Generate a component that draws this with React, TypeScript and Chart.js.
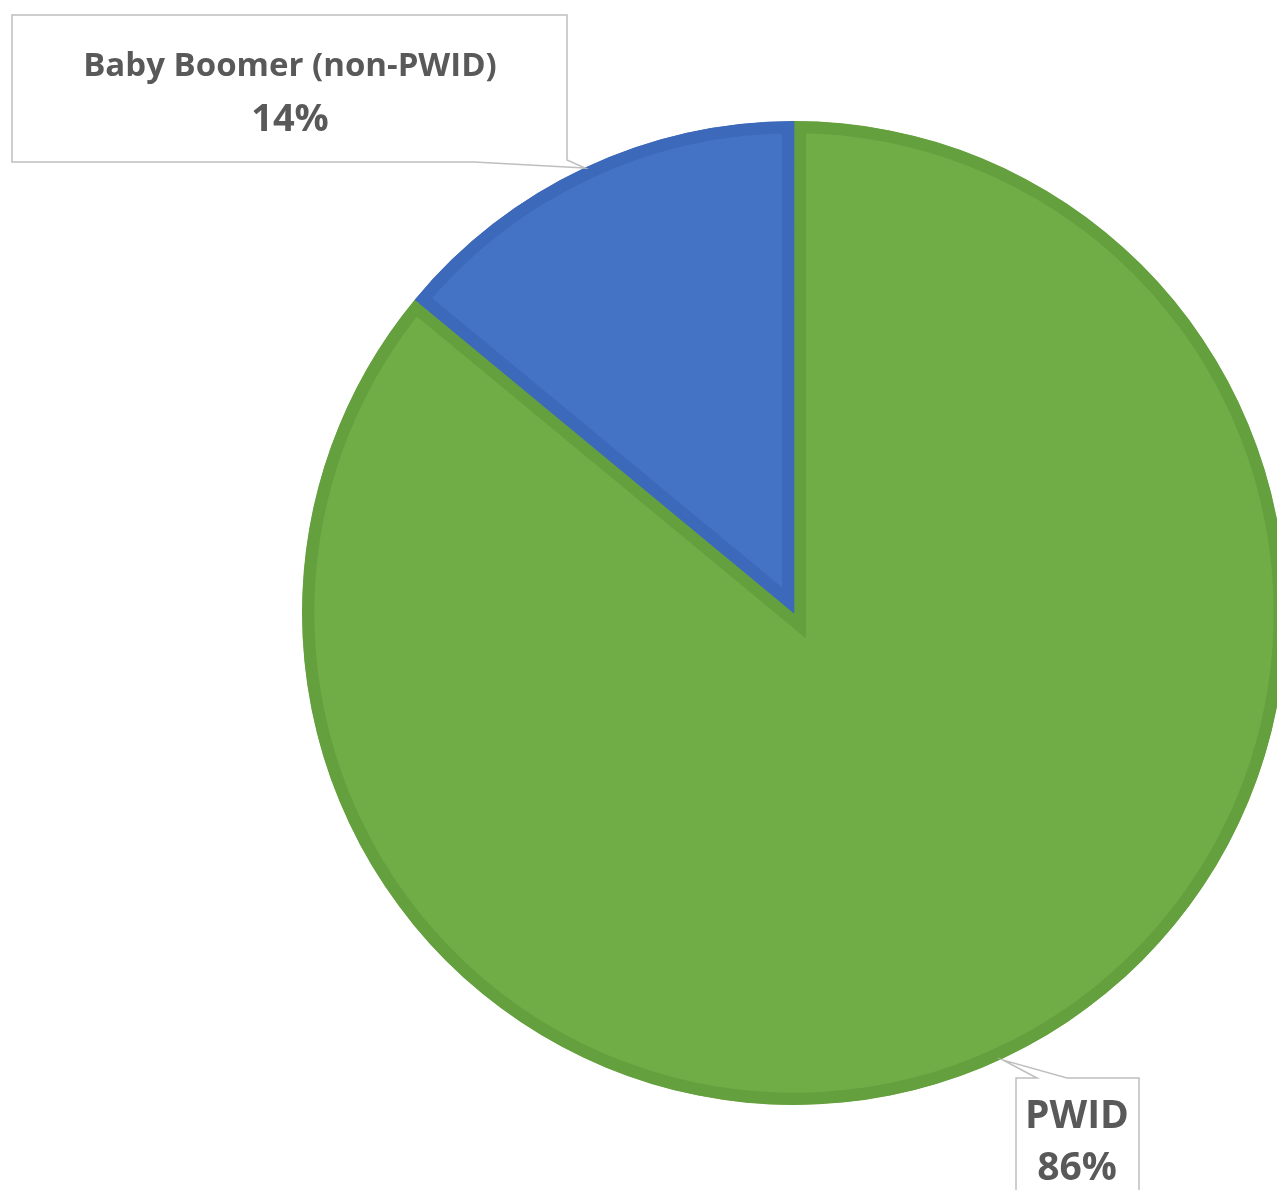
import React, { useEffect, useRef } from "react";
import { Chart, registerables } from "chart.js";

Chart.register(...registerables);

const categories: string[] = ["PWID", "Baby Boomer (non-PWID)"];
const values: number[] = [86, 14];
const fillColors: string[] = ["#70AD47", "#4472C4"];
const borderColors: string[] = ["#65A03E", "#3D69BA"];

const FONT = '"Open Sans", "DejaVu Sans", sans-serif';
const TEXT_COLOR = "#595959";
const BOX_COLOR = "#BFBFBF";

const calloutPlugin = {
  id: "callouts",
  afterDraw(chart: any) {
    const ctx = chart.ctx as CanvasRenderingContext2D;
    const total = values.reduce((a, b) => a + b, 0);
    const pct = values.map((v) => Math.round((v / total) * 100) + "%");

    ctx.save();
    ctx.lineWidth = 1.5;
    ctx.strokeStyle = BOX_COLOR;
    ctx.fillStyle = "#FFFFFF";

    // Baby Boomer callout (pointer at bottom right)
    ctx.beginPath();
    ctx.moveTo(12, 15);
    ctx.lineTo(567, 15);
    ctx.lineTo(567, 160);
    ctx.lineTo(585, 168);
    ctx.lineTo(474, 162);
    ctx.lineTo(12, 162);
    ctx.closePath();
    ctx.fill();
    ctx.stroke();

    // PWID callout (pointer at top left)
    ctx.beginPath();
    ctx.moveTo(1016, 1078);
    ctx.lineTo(1037, 1078);
    ctx.lineTo(1003, 1060);
    ctx.lineTo(1067, 1078);
    ctx.lineTo(1139, 1078);
    ctx.lineTo(1139, 1200);
    ctx.lineTo(1016, 1200);
    ctx.closePath();
    ctx.fill();
    ctx.stroke();

    ctx.fillStyle = TEXT_COLOR;
    ctx.textAlign = "center";
    ctx.textBaseline = "alphabetic";

    ctx.font = `bold 33px ${FONT}`;
    ctx.fillText(categories[1], 290, 76);
    ctx.font = `bold 38px ${FONT}`;
    ctx.fillText(pct[1], 290, 131);

    ctx.font = `bold 39px ${FONT}`;
    ctx.fillText(categories[0], 1077, 1128);
    ctx.fillText(pct[0], 1077, 1180);
    ctx.restore();
  },
};

export default function App() {
  const canvasRef = useRef<HTMLCanvasElement | null>(null);

  useEffect(() => {
    const canvas = canvasRef.current;
    if (!canvas) return;
    const chart = new Chart(canvas, {
      type: "pie",
      data: {
        labels: categories,
        datasets: [
          {
            data: values,
            backgroundColor: fillColors,
            borderColor: borderColors,
            borderWidth: 12,
            borderAlign: "inner",
            borderJoinStyle: "miter",
          } as any,
        ],
      },
      options: {
        animation: false,
        responsive: false,
        radius: 492,
        layout: { padding: { left: 311, top: 36, right: 0, bottom: 0 } },
        plugins: {
          legend: { display: false },
          tooltip: { enabled: false },
        },
      } as any,
      plugins: [calloutPlugin],
    });
    return () => chart.destroy();
  }, []);

  return (
    <div
      style={{
        position: "absolute",
        left: 0,
        top: 0,
        width: 1277,
        height: 1190,
        overflow: "hidden",
        background: "#FFFFFF",
      }}
    >
      <canvas ref={canvasRef} width={1277} height={1190} style={{ display: "block" }} />
    </div>
  );
}
